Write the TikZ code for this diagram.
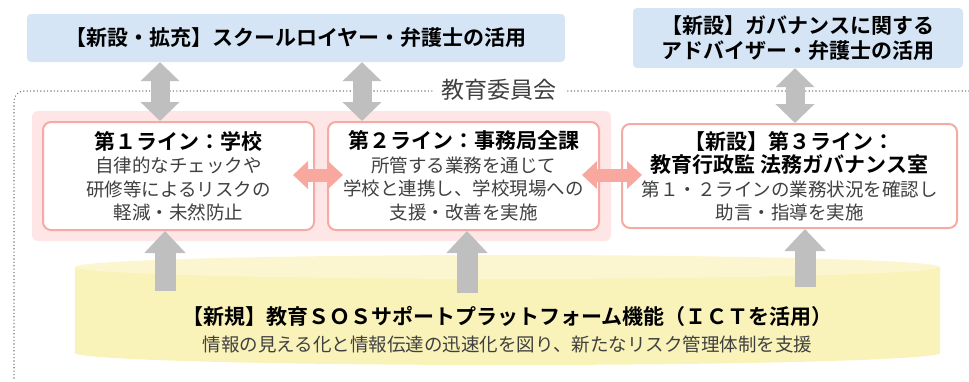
\documentclass[tikz,border=0pt]{standalone}
\usepackage{fontspec}
\setmainfont{Noto Sans CJK JP}[BoldFont={Noto Sans CJK JP Bold}]
\usetikzlibrary{arrows.meta}
\definecolor{bluefill}{HTML}{D5E5F5}
\definecolor{pinkbg}{HTML}{FDE6E5}
\definecolor{pinkline}{HTML}{F5ABA3}
\definecolor{pinkarrow}{HTML}{F8A89E}
\definecolor{grayarrow}{HTML}{BFBFBF}
\definecolor{cylbody}{HTML}{F9F2B9}
\definecolor{cyltop}{HTML}{FBF6CF}
\definecolor{dotgray}{HTML}{808080}
\definecolor{bodytext}{HTML}{404040}
\tikzset{
  bluebox/.style={fill=bluefill, rounded corners=4pt, align=center, text=black,
    font=\bfseries\fontsize{21}{25}\selectfont, inner sep=0pt},
  linebox/.style={fill=white, draw=pinkline, line width=2pt, rounded corners=8pt,
    align=center, text=bodytext, font=\fontsize{18.5}{23.5}\selectfont, inner sep=0pt},
  grayda/.style={draw=grayarrow, line width=19pt,
    {Triangle[width=38pt,length=19pt]}-{Triangle[width=38pt,length=19pt]}},
  grayup/.style={draw=grayarrow, line width=21pt, -{Triangle[width=40pt,length=22pt]}},
  pinkda/.style={draw=pinkarrow, line width=13pt,
    {Triangle[width=27pt,length=15pt]}-{Triangle[width=27pt,length=15pt]}},
  dotframe/.style={draw=dotgray, line width=1.6pt, dash pattern=on 0pt off 3.4pt, line cap=round}
}
\newcommand{\ttlline}[1]{{\bfseries\color{black}\fontsize{21}{23.5}\selectfont #1}}
\begin{document}
\begin{tikzpicture}[x=1pt,y=-1pt]
\useasboundingbox (0,0) rectangle (969,381);
% frame
\draw[dotframe, rounded corners=10pt] (969,91) -- (14,91) -- (14,381);
\node[fill=white, inner xsep=8pt, inner ysep=2pt, text=bodytext, font=\fontsize{23}{26}\selectfont] (iinkai) at (499,90) {教育委員会};
% blue boxes
\node[bluebox, minimum width=538pt, minimum height=48pt] (lawyer) at (296,38) {【新設・拡充】スクールロイヤー・弁護士の活用};
\node[bluebox, minimum width=330pt, minimum height=60pt] (advisor) at (798,38) {【新設】ガバナンスに関する\\アドバイザー・弁護士の活用};
% pink background
\fill[pinkbg, rounded corners=6pt] (32,111) rectangle (611,241);
% boxes
\node[linebox, minimum width=271pt, minimum height=108pt] (line1) at (178.5,176)
  {\ttlline{第１ライン：学校}\\自律的なチェックや\\研修等によるリスクの\\軽減・未然防止};
\node[linebox, minimum width=271pt, minimum height=108pt] (line2) at (463.5,176)
  {\ttlline{第２ライン：事務局全課}\\所管する業務を通じて\\学校と連携し、学校現場への\\支援・改善を実施};
\node[linebox, minimum width=335pt, minimum height=104pt] (line3) at (789.5,176)
  {\ttlline{【新設】第３ライン：}\\\ttlline{教育行政監 法務ガバナンス室}\\第１・２ラインの業務状況を確認し\\助言・指導を実施};
% cylinder
\fill[cylbody] (75,267) -- (75,353) arc[start angle=180, end angle=360, x radius=432.5pt, y radius=12pt] -- (940,267) -- cycle;
\fill[cyltop] (507.5,267) ellipse[x radius=432.5pt, y radius=12pt];
\node[inner sep=0pt, font=\bfseries\fontsize{21}{24}\selectfont] (sostitle) at (507.5,316) {【新規】教育ＳＯＳサポートプラットフォーム機能（ＩＣＴを活用）};
\node[inner sep=0pt, text=bodytext, font=\fontsize{18.5}{22}\selectfont] (sosbody) at (507.5,344) {情報の見える化と情報伝達の迅速化を図り、新たなリスク管理体制を支援};
% coordinates
\coordinate (a1) at (160,0);
\coordinate (a2) at (362,0);
\coordinate (a3) at (795,0);
\coordinate (b1) at (165,291);
\coordinate (b2) at (467,293);
\coordinate (b3) at (805,287);
% gray double arrows
\draw[grayda] (lawyer.south -| a1) -- (line1.north -| a1);
\draw[grayda] (lawyer.south -| a2) -- (line2.north -| a2);
\draw[grayda] (advisor.south -| a3) -- (line3.north -| a3);
% up arrows
\draw[grayup] (b1) -- (line1.south -| b1);
\draw[grayup] (b2) -- (line2.south -| b2);
\draw[grayup] (b3) -- (line3.south -| b3);
% pink arrows
\coordinate (p1) at (293,175);
\coordinate (p2) at (343,175);
\coordinate (p3) at (582,175);
\coordinate (p4) at (642,175);
\draw[pinkda] (p1) -- (p2);
\draw[pinkda] (p3) -- (p4);
\end{tikzpicture}
\end{document}
